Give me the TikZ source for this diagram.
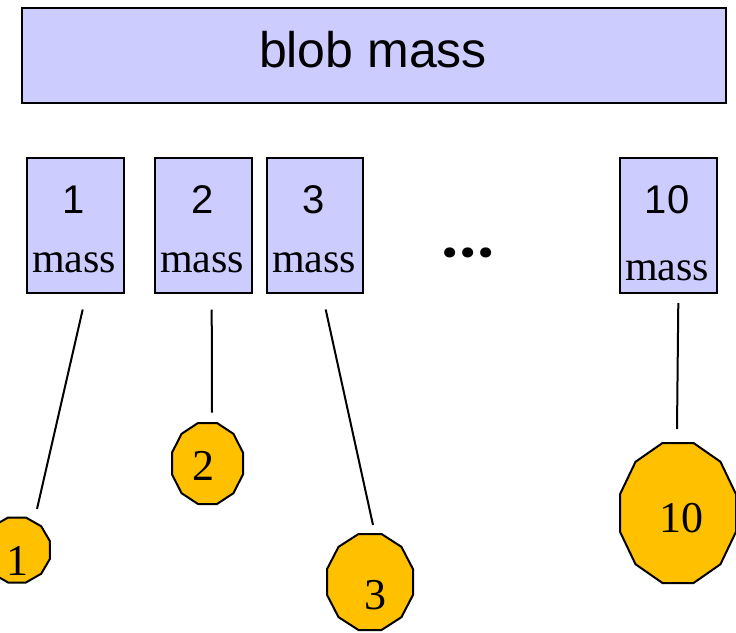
\documentclass[tikz,border=0pt]{standalone}
\usepackage{fontspec}
\setmainfont{Liberation Sans}
\newfontfamily\timesfont{Liberation Serif}
\newfontfamily\dotfont{Poppins}
\usetikzlibrary{calc}
\definecolor{boxfill}{RGB}{204,204,255}
\definecolor{polyfill}{RGB}{255,192,0}
\tikzset{
  boxstyle/.style={draw=black, line width=2pt, fill=boxfill, rectangle, inner sep=0pt},
  numtext/.style={font=\fontsize{40}{40}\selectfont, anchor=base, inner sep=0pt},
  masstext/.style={font=\timesfont\fontsize{42}{42}\selectfont, anchor=base, inner sep=0pt},
  polytext/.style={font=\timesfont\fontsize{44}{44}\selectfont, anchor=base, inner sep=0pt},
  conn/.style={draw=black, line width=2pt},
  polyshape/.style={draw=black, line width=2pt, fill=polyfill, line join=miter}
}
\newcommand\mydodec[3]{% center name, w, h
  \draw[polyshape, shift={(#1)}] plot[samples at={15,45,...,345}]
    ({#2/2/cos(15)*cos(\x)},{#3/2/cos(15)*sin(\x)}) -- cycle;}
\begin{document}
\begin{tikzpicture}[x=1pt,y=-1pt]
\useasboundingbox (0,0) rectangle (736,632);
% title box
\node[boxstyle, minimum width=704, minimum height=95] (top) at (374,55.5) {};
\node[font=\fontsize{50}{50}\selectfont, anchor=base, inner sep=0pt] (toptxt) at (373,67) {blob mass};
% small boxes
\node[boxstyle, minimum width=97, minimum height=135] (b1) at (75.5,225) {};
\node[boxstyle, minimum width=97, minimum height=135] (b2) at (203.5,225) {};
\node[boxstyle, minimum width=96, minimum height=135] (b3) at (315,225) {};
\node[boxstyle, minimum width=97, minimum height=135] (b10) at (668,225) {};
\node[numtext] (n1) at (74,213) {1};
\node[numtext] (n2) at (202.5,213) {2};
\node[numtext] (n3) at (314,213) {3};
\node[numtext] (n10) at (667,213) {10};
\node[masstext] (m1) at (74,272) {mass};
\node[masstext] (m2) at (202,272) {mass};
\node[masstext] (m3) at (314,272) {mass};
\node[masstext] (m10) at (667,280) {mass};
% ellipsis
\node[font=\dotfont\bfseries\fontsize{54}{54}\selectfont, anchor=base, inner sep=0pt] (dots) at (468,257.5) {.\kern2.5pt.\kern2.5pt.};
% polygons
\coordinate (p1) at (17,550);
\coordinate (p2) at (207.5,463.5);
\coordinate (p3) at (370,582);
\coordinate (p10) at (678,513);
\mydodec{p1}{66}{65}
\mydodec{p2}{71}{81}
\mydodec{p3}{86}{96}
\mydodec{p10}{116}{140}
\node[polytext] (t1) at (17,575) {1};
\node[polytext] (t2) at (203,480) {2};
\node[polytext] (t3) at (375,609) {3};
\node[polytext] (t10) at (681,532) {10};
% connectors
\draw[conn] ($(b1.south)+(7.2,16)$) -- ($(p1)+(20,-41)$);
\draw[conn] ($(b2.south)+(8.2,16)$) -- ($(p2)+(4.5,-51)$);
\draw[conn] ($(b3.south)+(10.7,16)$) -- ($(p3)+(3,-57)$);
\draw[conn] ($(b10.south)+(10.3,9.5)$) -- ($(p10)+(-1,-84)$);
\end{tikzpicture}
\end{document}
